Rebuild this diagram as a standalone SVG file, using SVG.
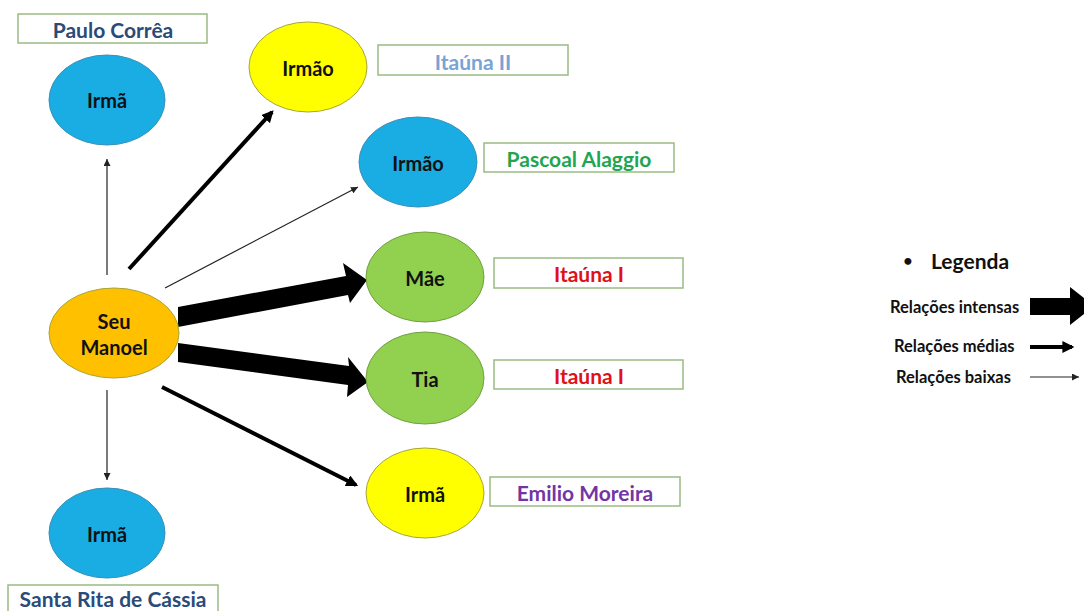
<svg xmlns="http://www.w3.org/2000/svg" width="1084" height="611" viewBox="0 0 1084 611">
<defs>
<style>
text{font-family:Lato,"Open Sans","Liberation Sans",sans-serif;font-weight:bold;text-anchor:middle;dominant-baseline:central}
.n{font-size:20px;fill:#111}
.box{fill:#fff;stroke:#9BBB83;stroke-width:1.5}
.lb{font-size:21px}
.blue{fill:#1AADE4;stroke:#3A8FB7;stroke-width:1}
.yel{fill:#FFFF00;stroke:#A6A63A;stroke-width:1}
.grn{fill:#92D050;stroke:#6FA040;stroke-width:1}
.org{fill:#FFC000;stroke:#A6A63A;stroke-width:1}
.thin{stroke:#222;stroke-width:1.2;fill:none}
.med{stroke:#000;stroke-width:4;fill:none}
.leg{font-size:16.5px;fill:#111;text-anchor:start}
</style>
<marker id="ah" viewBox="0 0 10 10" refX="10" refY="5" markerWidth="7" markerHeight="7" markerUnits="userSpaceOnUse" orient="auto"><path d="M0,0 L10,5 L0,10 z" fill="#222"/></marker>
<marker id="am" viewBox="0 0 10 10" refX="8" refY="5" markerWidth="3" markerHeight="3" orient="auto"><path d="M0,0 L10,5 L0,10 z" fill="#000"/></marker>
</defs>

<g id="connectors">
<line class="thin" x1="107" y1="275" x2="107" y2="159" marker-end="url(#ah)"/>
<line class="thin" x1="107" y1="390" x2="107" y2="480" marker-end="url(#ah)"/>
<line class="med" x1="129" y1="269" x2="272" y2="112" marker-end="url(#am)"/>
<line class="thin" x1="165" y1="288" x2="358" y2="187" marker-end="url(#ah)"/>
<polygon points="178,307 346,276 343,263 367,280 350,303 348,295 178,327" fill="#000"/>
<polygon points="178,343 349,366 348,357 368,382 347,397 348,385 178,362" fill="#000"/>
<line class="med" x1="162" y1="387" x2="356" y2="485" marker-end="url(#am)"/>
</g>

<g id="paulo-correa"><rect class="box" x="18" y="14" width="189" height="29"/><text class="lb" x="113" y="29" fill="#2A4B78">Paulo Corrêa</text></g>
<g id="irma-top"><ellipse class="blue" cx="107" cy="100" rx="58" ry="45"/><text class="n" x="107" y="100">Irmã</text></g>
<g id="irmao-yellow"><ellipse class="yel" cx="308" cy="67" rx="59" ry="45"/><text class="n" x="308" y="68">Irmão</text></g>
<g id="itauna-ii"><rect class="box" x="378" y="45" width="190" height="30"/><text class="lb" x="473" y="61" fill="#77A3D6">Itaúna II</text></g>
<g id="irmao-blue"><ellipse class="blue" cx="418" cy="162" rx="59" ry="45"/><text class="n" x="418" y="163">Irmão</text></g>
<g id="pascoal-alaggio"><rect class="box" x="484" y="143" width="190" height="29"/><text class="lb" x="579" y="158" fill="#1FA650">Pascoal Alaggio</text></g>
<g id="mae"><ellipse class="grn" cx="425" cy="277" rx="59" ry="45"/><text class="n" x="425" y="278">Mãe</text></g>
<g id="itauna-i-1"><rect class="box" x="494" y="258" width="189" height="30"/><text class="lb" x="589" y="273" fill="#E0101A">Itaúna I</text></g>
<g id="tia"><ellipse class="grn" cx="425" cy="378" rx="59" ry="46"/><text class="n" x="425" y="379">Tia</text></g>
<g id="itauna-i-2"><rect class="box" x="494" y="360" width="189" height="29"/><text class="lb" x="589" y="375" fill="#E0101A">Itaúna I</text></g>
<g id="irma-yellow"><ellipse class="yel" cx="425" cy="493" rx="59" ry="45"/><text class="n" x="425" y="494">Irmã</text></g>
<g id="emilio-moreira"><rect class="box" x="490" y="477" width="190" height="29"/><text class="lb" x="585" y="492" fill="#7434A4">Emilio Moreira</text></g>
<g id="seu-manoel"><ellipse class="org" cx="114" cy="333" rx="65" ry="45"/><text class="n" x="114" y="321">Seu</text><text class="n" x="114" y="347">Manoel</text></g>
<g id="irma-bottom"><ellipse class="blue" cx="107" cy="533" rx="58" ry="45"/><text class="n" x="107" y="534">Irmã</text></g>
<g id="santa-rita"><rect class="box" x="8" y="585" width="210" height="30"/><text class="lb" x="113" y="598" fill="#2A4B78">Santa Rita de Cássia</text></g>

<g id="legend">
<text x="908" y="259" style="font-size:16px;fill:#111">•</text>
<text x="931" y="260" style="font-size:21px;fill:#111;text-anchor:start">Legenda</text>
<text class="leg" x="890" y="307">Relações intensas</text>
<polygon points="1030,298 1070,298 1070,287 1094,306 1070,325 1070,315 1030,315" fill="#000"/>
<text class="leg" x="894" y="346">Relações médias</text>
<line class="med" x1="1030" y1="347" x2="1072" y2="347" stroke-width="2.5" marker-end="url(#am)"/>
<text class="leg" x="896" y="377">Relações baixas</text>
<line class="thin" x1="1030" y1="377" x2="1079" y2="377" marker-end="url(#ah)"/>
</g>
</svg>
